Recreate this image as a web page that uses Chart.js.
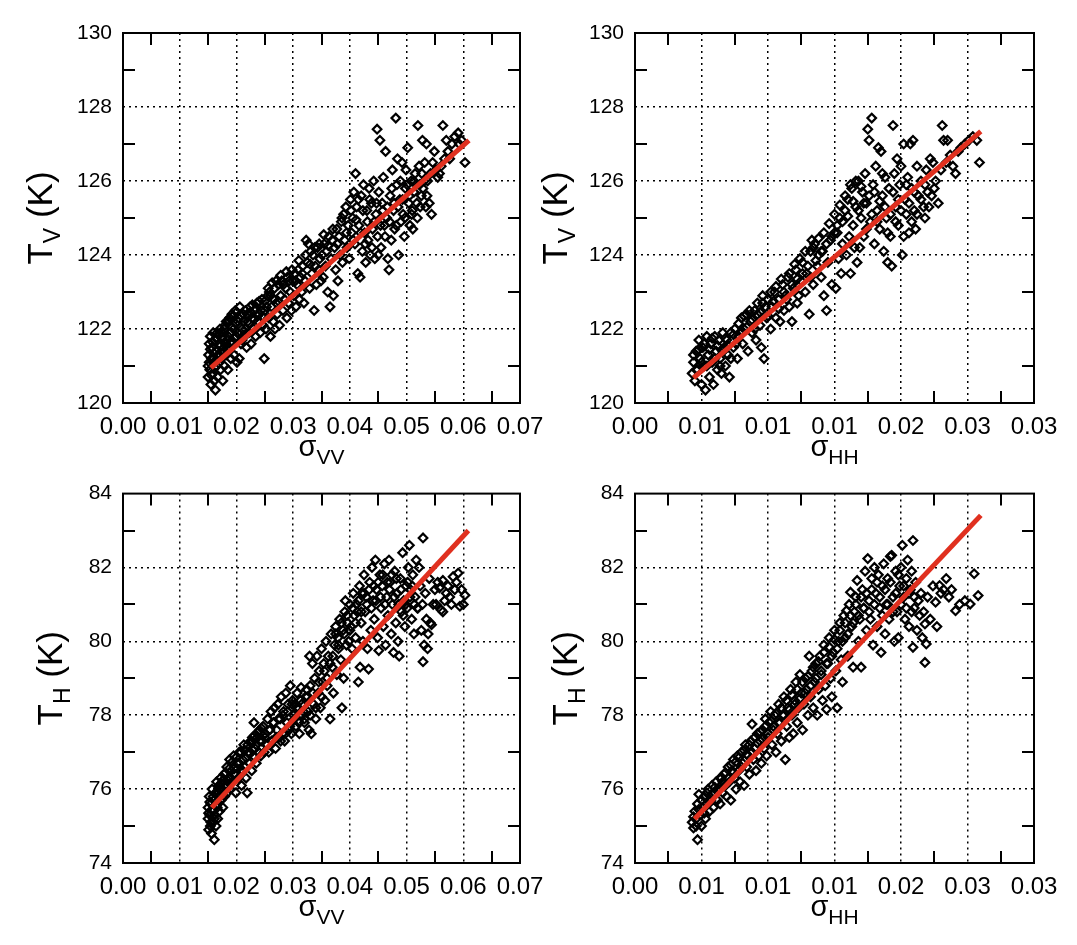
<!DOCTYPE html>
<html><head><meta charset="utf-8">
<script src="https://cdn.jsdelivr.net/npm/chart.js@4.4.1/dist/chart.umd.min.js"></script>
<style>
html,body{margin:0;padding:0;background:#fff;}
body{width:1077px;height:945px;overflow:hidden;position:relative;}
.p{position:absolute;}
canvas{display:block;}
</style></head><body>
<div class="p" style="left:0;top:0"><canvas id="c1" width="560" height="470"></canvas></div>
<div class="p" style="left:530px;top:0"><canvas id="c2" width="547" height="470"></canvas></div>
<div class="p" style="left:0;top:470px"><canvas id="c3" width="560" height="475"></canvas></div>
<div class="p" style="left:530px;top:470px"><canvas id="c4" width="547" height="475"></canvas></div>
<script>
// ---------- axes ----------
const vvTicks = [0,0.01,0.02,0.03,0.04,0.05,0.06,0.07];
const vvLabels = ['0.00','0.01','0.02','0.03','0.04','0.05','0.06','0.07'];
const vvMinor = [0.005,0.015,0.025,0.035,0.045,0.055,0.065];
const hhTicks = [0,0.005,0.01,0.015,0.02,0.025,0.03];
const hhLabels = ['0.00','0.01','0.01','0.01','0.02','0.03','0.03'];
const hhMinor = [0.0025,0.0075,0.0125,0.0175,0.0225,0.0275];
const tvTicks = [120,122,124,126,128,130];
const tvLabels = ['120','122','124','126','128','130'];
const tvMinor = [121,123,125,127,129];
const thTicks = [74,76,78,80,82,84];
const thLabels = ['74','76','78','80','82','84'];
const thMinor = [75,77,79,81,83];

// ---------- regression lines [x,y] ----------
const vvTvFit = [[0.0155,120.95],[0.0610,127.10]];
const hhTvFit = [[0.0044,120.68],[0.0260,127.34]];
const vvThFit = [[0.01565,75.50],[0.0609,83.00]];
const hhThFit = [[0.00448,75.19],[0.0260,83.41]];

// ---------- scatter points [x,y] ----------
const vvTvPts = [
[0.0150,120.7],[0.0150,121.0],[0.0151,121.3],[0.0152,121.6],[0.0153,120.9],[0.0154,121.8],[0.0155,120.5],[0.0156,121.2],[0.0157,121.5],[0.0158,120.8],[0.0159,121.9],[0.0160,121.1],[0.0161,120.6],[0.0162,121.7],[0.0163,120.35],[0.0164,121.4],[0.0165,121.0],[0.0166,121.9],[0.0167,120.7],[0.0168,121.3],[0.0170,121.6],[0.0171,122.0],[0.0172,120.9],[0.0174,121.2],[0.0175,121.8],[0.0176,120.6],[0.0178,121.5],[0.0179,121.0],[0.0180,122.1],[0.0182,121.3],[0.0183,121.7],[0.0185,120.9],[0.0186,122.2],[0.0188,121.5],[0.0189,121.9],[0.0190,121.2],[0.0192,122.4],[0.0193,121.6],[0.0195,122.0],[0.0196,121.3],[0.0198,122.5],[0.0200,121.8],[0.0201,121.1],[0.0203,122.2],[0.0205,121.2],[0.0206,122.6],[0.0208,121.6],[0.0210,122.0],[0.0212,122.4],[0.0214,121.8],[0.0216,122.5],[0.0218,121.5],[0.0220,122.2],
[0.0222,121.9],[0.0224,122.6],[0.0226,121.6],[0.0228,122.3],[0.0230,122.0],[0.0232,122.5],[0.0234,121.8],[0.0236,122.7],[0.0238,122.2],[0.0240,122.4],[0.0242,121.9],[0.0245,122.8],[0.0247,122.1],[0.0249,121.2],[0.0250,122.5],[0.0252,122.0],[0.0255,122.9],[0.0257,122.3],[0.0258,123.0],[0.0260,121.8],[0.0262,122.6],[0.0265,122.2],[0.0267,123.1],[0.0268,122.0],[0.0270,122.7],[0.0272,122.4],[0.0274,123.2],[0.0276,122.1],[0.0278,122.9],[0.0280,123.3],[0.0282,122.5],[0.0285,122.8],[0.0287,123.1],[0.0289,122.3],[0.0290,123.4],[0.0292,122.7],[0.0295,123.0],[0.0297,122.5],[0.0299,123.3],
[0.0301,122.9],[0.0303,123.5],[0.0305,122.6],[0.0307,123.2],[0.0309,123.6],[0.0311,122.8],[0.0313,123.4],[0.0315,123.0],[0.0317,123.7],[0.0319,122.7],[0.0321,123.3],[0.0323,124.4],[0.0325,123.8],[0.0327,124.3],[0.0329,123.1],[0.0331,124.1],[0.0333,123.5],[0.0335,124.0],[0.0337,122.5],[0.0339,123.7],[0.0341,123.2],[0.0343,124.2],[0.0345,123.6],[0.0347,123.9],[0.0349,123.3],
[0.0351,124.0],[0.0353,123.4],[0.0355,124.3],[0.0357,123.7],[0.0359,124.1],[0.0361,123.0],[0.0363,124.5],[0.0365,122.6],[0.0367,123.9],[0.0369,124.4],[0.0371,122.9],[0.0373,124.2],[0.0375,123.6],[0.0377,124.7],[0.0379,123.3],[0.0381,124.5],[0.0383,124.0],[0.0385,124.9],[0.0387,123.8],[0.0389,125.1],[0.0391,124.4],[0.0393,125.3],[0.0395,124.2],[0.0397,124.8],[0.0399,123.9],
[0.0401,125.5],[0.0403,124.6],[0.0405,125.0],[0.0407,125.7],[0.0409,124.3],[0.0410,126.2],[0.0412,125.3],[0.0414,123.5],[0.0416,124.8],[0.0418,123.4],[0.0420,125.6],[0.0422,124.1],[0.0424,125.9],[0.0426,124.6],[0.0428,123.8],[0.0430,125.2],[0.0432,124.4],[0.0434,125.8],[0.0436,124.0],[0.0438,125.4],[0.0440,124.7],[0.0442,126.0],[0.0444,123.9],[0.0446,125.1],[0.0448,127.4],[0.0449,124.5],[0.0451,125.7],[0.0453,127.1],[0.0455,124.2],[0.0457,125.4],[0.0459,126.1],[0.0461,124.8],[0.0463,126.8],[0.0465,125.0],[0.0467,123.9],[0.0469,123.6],[0.0471,125.6],[0.0473,124.4],[0.0475,126.3],[0.0477,125.2],[0.0479,124.7],[0.0481,127.7],[0.0483,125.9],[0.0484,126.6],[0.0486,124.0],[0.0488,125.5],[0.0490,124.9],[0.0492,126.5],[0.0494,125.1],[0.0496,124.5],[0.0498,125.8],[0.0499,126.3],
[0.0502,126.9],[0.0504,125.4],[0.0506,124.8],[0.0508,126.0],[0.0510,125.2],[0.0511,124.7],[0.0513,125.7],[0.0515,126.2],[0.0517,125.9],[0.0519,125.0],[0.0520,127.5],[0.0522,126.4],[0.0524,125.3],[0.0526,125.6],[0.0528,127.1],[0.0529,125.8],[0.0532,126.5],[0.0534,125.3],[0.0535,127.0],[0.0537,126.0],[0.0540,125.4],[0.0542,126.2],[0.0544,125.1],[0.0546,126.5],[0.0549,126.8],[0.0552,126.3],[0.0555,126.1],[0.0558,126.2],[0.0561,126.4],[0.0564,127.5],[0.0567,126.6],[0.0570,127.1],[0.0573,126.8],[0.0576,126.6],[0.0580,127.0],[0.0585,127.2],[0.0591,127.3],[0.0593,127.0],[0.0597,127.1],[0.0603,126.5],
[0.0152,121.1],[0.0154,121.45],[0.0156,120.75],[0.0158,121.65],[0.0160,121.35],[0.0162,120.95],[0.0164,121.75],[0.0166,121.15],[0.0168,121.85],[0.0170,121.3],[0.0172,121.55],[0.0174,121.9],[0.0176,121.35],[0.0178,122.0],[0.0180,121.6],[0.0182,122.2],[0.0184,121.45],[0.0186,121.8],[0.0188,122.3],[0.0190,121.65],[0.0192,122.05],[0.0194,122.35],[0.0196,121.75],[0.0198,122.15],[0.0200,122.45],[0.0202,121.9],[0.0204,122.3],[0.0206,121.85],[0.0208,122.35],[0.0210,121.7],[0.0213,122.2],[0.0216,122.0],[0.0219,122.4],[0.0222,122.15],[0.0225,122.45],[0.0228,122.65],[0.0231,122.25],[0.0234,122.55],[0.0237,122.35],[0.0240,122.75],[0.0243,122.5],[0.0246,122.35],[0.0250,122.75],[0.0253,122.6],[0.0256,123.1],[0.0260,122.9],[0.0263,123.25],[0.0266,122.8],[0.0270,123.3],[0.0274,122.75],[0.0278,123.45],[0.0283,123.2],[0.0288,123.55],[0.0293,123.3],[0.0298,123.6],[0.0304,123.3],[0.0310,123.85],[0.0316,123.5],[0.0322,124.0],[0.0330,123.75],[0.0338,124.2],[0.0346,124.3],[0.0354,124.55],[0.0362,124.25],[0.0370,124.7],[0.0378,124.3],[0.0386,125.0],[0.0394,124.6],[0.0402,125.2],[0.0406,124.4],[0.0411,124.95],[0.0415,125.5],[0.0419,124.6],[0.0423,125.2],[0.0427,124.3],[0.0431,124.9],[0.0435,125.5],[0.0439,124.2],[0.0443,124.9],[0.0447,125.4],[0.0450,124.0],[0.0454,124.8],[0.0458,125.2],[0.0462,124.5],[0.0466,125.3],[0.0470,124.9],[0.0474,125.8],[0.0478,125.4],[0.0482,124.8],[0.0485,125.3],[0.0489,126.0],[0.0493,125.5],[0.0497,125.0],[0.0501,125.9],[0.0505,125.6],[0.0509,125.1],[0.0513,126.0],[0.0518,125.4],[0.0523,125.9],[0.0527,126.2],[0.0531,126.0],[0.0536,125.6]
];
const hhTvPts = [
[0.0043,120.8],[0.0044,121.1],[0.0045,120.6],[0.0046,121.4],[0.0047,120.9],[0.0048,121.7],[0.0049,121.2],[0.0050,120.5],[0.0051,121.5],[0.0052,121.0],[0.0053,120.35],[0.0054,121.8],[0.0055,121.3],[0.0056,120.7],[0.0057,121.6],[0.0058,121.1],[0.0059,120.5],[0.0060,121.8],[0.0061,121.4],[0.0062,120.9],[0.0063,121.7],[0.0064,121.2],[0.0065,120.8],[0.0066,121.9],[0.0067,121.5],[0.0068,121.0],[0.0069,121.7],[0.0070,121.3],[0.0071,120.7],[0.0072,121.9],
[0.0074,121.5],[0.0075,122.0],[0.0077,121.2],[0.0078,121.8],[0.0080,122.3],[0.0081,121.6],[0.0082,122.0],[0.0084,122.4],[0.0085,121.4],[0.0087,122.2],[0.0088,121.9],[0.0090,122.5],[0.0091,121.7],[0.0092,122.4],[0.0094,122.1],[0.0095,121.5],[0.0096,122.7],[0.0097,121.2],[0.0099,122.3],[0.0100,122.8],[0.0102,122.0],[0.0103,122.6],[0.0105,123.0],[0.0106,122.3],[0.0108,122.8],[0.0109,122.2],[0.0111,123.2],[0.0112,122.5],[0.0113,122.9],[0.0115,123.4],[0.0116,122.6],[0.0118,122.2],[0.0119,123.1],
[0.0121,123.6],[0.0122,122.7],[0.0123,122.9],[0.0125,123.3],[0.0126,123.8],[0.0128,123.0],[0.0129,123.5],[0.0131,122.4],[0.0132,124.1],[0.0133,124.4],[0.0134,123.2],[0.0135,124.3],[0.0137,123.7],[0.0138,124.0],[0.0140,123.4],[0.0141,124.1],[0.0142,122.9],[0.0144,122.5],[0.0145,123.8],[0.0147,124.4],[0.0148,123.2],[0.0150,124.6],[0.0151,123.1],[0.0152,124.8],[0.0153,123.9],[0.0154,125.0],[0.0155,123.5],[0.0156,124.3],[0.0158,125.2],[0.0159,124.0],
[0.0160,125.5],[0.0161,124.5],[0.0162,123.5],[0.0163,125.8],[0.0164,124.8],[0.0165,124.2],[0.0166,125.3],[0.0167,123.8],[0.0168,126.0],[0.0169,124.2],[0.0170,125.0],[0.0171,125.7],[0.0172,124.5],[0.0173,126.2],[0.0174,125.4],[0.0175,127.4],[0.0176,127.1],[0.0177,124.9],[0.0178,127.7],[0.0179,125.9],[0.0180,124.3],[0.0181,126.4],[0.0182,125.2],[0.0183,126.9],[0.0184,124.7],[0.0185,126.8],[0.0186,125.6],[0.0187,124.1],[0.0188,126.1],[0.0189,125.0],[0.0190,123.8],[0.0191,125.8],[0.0192,124.5],[0.0193,123.7],[0.0194,127.5],[0.0195,126.2],[0.0196,125.3],[0.0197,126.6],[0.0198,124.8],[0.0199,125.9],
[0.0200,126.4],[0.0201,124.0],[0.0202,127.0],[0.0203,125.5],[0.0204,125.1],[0.0205,126.1],[0.0206,124.6],[0.0207,127.0],[0.0208,125.8],[0.0209,127.1],[0.0210,125.2],[0.0211,124.7],[0.0212,126.4],[0.0213,125.6],[0.0215,126.0],[0.0217,125.3],[0.0218,125.0],[0.0219,126.3],[0.0220,125.7],[0.0222,126.6],[0.0223,125.6],[0.0224,126.5],[0.0226,126.0],[0.0228,125.4],[0.0230,126.3],[0.0231,127.5],[0.0232,127.1],[0.0234,126.5],[0.0235,127.1],[0.0237,126.7],[0.0239,126.4],[0.0241,126.2],[0.0243,126.8],[0.0245,126.9],[0.0248,127.0],[0.0251,127.1],[0.0254,127.2],[0.0257,127.1],[0.0259,126.5],
[0.0044,121.3],[0.0046,120.9],[0.0048,121.45],[0.0050,121.1],[0.0052,121.6],[0.0054,121.0],[0.0056,121.45],[0.0058,121.75],[0.0060,121.2],[0.0062,121.55],[0.0064,121.0],[0.0066,121.4],[0.0068,121.75],[0.0070,121.55],[0.0072,121.2],[0.0074,121.85],[0.0076,121.6],[0.0078,122.15],[0.0080,121.9],[0.0082,122.35],[0.0084,122.05],[0.0086,122.5],[0.0088,122.25],[0.0090,122.0],[0.0092,122.7],[0.0094,122.45],[0.0096,122.9],[0.0098,122.6],[0.0100,122.35],[0.0102,123.0],[0.0104,122.75],[0.0106,123.15],[0.0108,122.55],[0.0110,123.35],[0.0112,123.0],[0.0114,122.8],[0.0116,123.5],[0.0118,123.2],[0.0120,123.75],[0.0122,123.35],[0.0124,123.9],[0.0126,123.5],[0.0128,124.1],[0.0130,123.7],[0.0132,123.4],[0.0134,124.2],[0.0136,123.85],[0.0138,124.45],[0.0140,124.1],[0.0142,124.6],[0.0144,124.3],[0.0146,124.85],[0.0148,124.5],[0.0150,125.1],[0.0152,124.6],[0.0154,125.35],[0.0156,124.9],[0.0158,125.6],[0.0160,125.05],[0.0162,125.9],[0.0164,125.45],[0.0166,126.0],[0.0168,125.2],[0.0170,125.85],[0.0172,125.4],[0.0174,124.7],[0.0176,125.6],[0.0178,125.1],[0.0180,125.7],[0.0182,124.9],[0.0184,125.45],[0.0186,126.2],[0.0188,125.3],[0.0190,124.6],[0.0192,125.1],[0.0194,125.7],[0.0196,124.9],[0.0198,125.5],[0.0200,125.2],[0.0202,124.5],[0.0204,125.9],[0.0206,125.4],[0.0208,124.9],[0.0210,125.7],[0.0212,125.1],[0.0215,125.5],[0.0218,125.9],[0.0221,125.3],[0.0225,125.8]
];
const vvThPts = [
[0.0150,75.2],[0.0150,75.5],[0.0151,74.9],[0.0152,75.8],[0.0153,75.3],[0.0154,75.0],[0.0155,75.6],[0.0156,74.8],[0.0157,76.0],[0.0158,75.4],[0.0159,75.1],[0.0160,75.7],[0.0161,74.63],[0.0162,75.3],[0.0163,75.9],[0.0164,75.0],[0.0165,76.2],[0.0166,75.5],[0.0167,75.2],[0.0168,75.8],[0.0169,76.1],[0.0170,75.4],[0.0172,76.3],[0.0173,75.7],[0.0175,76.0],[0.0176,75.5],[0.0178,76.4],[0.0179,75.8],
[0.0181,76.1],[0.0183,76.6],[0.0184,75.9],[0.0186,76.3],[0.0188,76.8],[0.0189,76.0],[0.0191,76.5],[0.0193,76.2],[0.0195,76.9],[0.0197,76.4],[0.0199,75.9],[0.0201,76.7],[0.0203,76.3],[0.0205,77.0],[0.0207,76.5],[0.0209,76.1],[0.0211,76.8],[0.0213,77.2],[0.0215,76.6],[0.0217,76.3],[0.0219,75.9],[0.0221,77.0],[0.0223,76.7],[0.0225,77.3],[0.0227,76.5],[0.0228,77.4],[0.0230,76.9],[0.0231,77.8],[0.0233,77.1],[0.0235,76.7],[0.0237,77.4],[0.0239,77.0],[0.0241,77.6],[0.0243,76.9],[0.0245,77.3],[0.0247,77.7],[0.0249,77.0],
[0.0251,77.5],[0.0253,77.2],[0.0255,77.9],[0.0257,77.0],[0.0259,77.6],[0.0261,78.1],[0.0263,77.3],[0.0265,77.8],[0.0267,78.2],[0.0269,77.1],[0.0271,77.6],[0.0273,78.3],[0.0275,77.4],[0.0277,77.9],[0.0279,78.5],[0.0281,77.5],[0.0283,78.1],[0.0285,77.3],[0.0287,78.6],[0.0289,77.8],[0.0291,78.3],[0.0293,77.6],[0.0295,78.8],[0.0297,77.5],[0.0299,78.4],[0.0301,78.0],[0.0303,78.3],[0.0305,77.7],[0.0307,78.6],[0.0309,78.2],[0.0311,77.5],[0.0313,78.4],[0.0314,78.75],[0.0316,78.0],[0.0318,78.1],[0.0320,77.8],[0.0322,78.5],[0.0324,78.7],[0.0326,78.1],[0.0328,77.6],[0.0329,79.6],[0.0330,78.8],
[0.0332,77.5],[0.0334,79.4],[0.0336,78.3],[0.0338,79.0],[0.0340,77.9],[0.0342,79.6],[0.0344,78.6],[0.0346,79.2],[0.0348,78.2],[0.0350,79.8],[0.0352,78.9],[0.0354,79.4],[0.0356,78.4],[0.0358,80.0],[0.0360,79.0],[0.0362,79.6],[0.0365,77.9],[0.0367,80.2],[0.0369,79.3],[0.0371,78.6],[0.0373,79.9],[0.0375,80.4],[0.0377,79.1],[0.0379,80.1],[0.0380,79.8],[0.0382,80.6],[0.0384,79.5],[0.0386,78.2],[0.0388,80.3],[0.0389,79.0],[0.0391,80.8],[0.0392,81.1],[0.0394,79.9],[0.0396,80.5],[0.0398,80.0],
[0.0400,81.0],[0.0402,80.4],[0.0404,79.8],[0.0406,81.3],[0.0408,80.7],[0.0410,80.1],[0.0412,81.0],[0.0413,80.8],[0.0415,78.9],[0.0417,81.5],[0.0418,79.3],[0.0420,80.5],[0.0421,81.3],[0.0423,80.0],[0.0425,81.8],[0.0427,80.8],[0.0429,81.2],[0.0431,79.8],[0.0433,79.25],[0.0435,81.6],[0.0437,80.3],[0.0439,82.0],[0.0441,81.1],[0.0443,80.6],[0.0445,82.2],[0.0447,81.4],[0.0449,80.1],[0.0451,79.75],[0.0453,81.8],[0.0455,80.9],[0.0457,81.5],[0.0459,80.4],[0.0461,82.1],[0.0463,79.9],[0.0465,81.2],[0.0467,80.7],[0.0469,82.2],[0.0471,81.6],[0.0473,80.2],[0.0475,81.0],[0.0477,79.7],[0.0479,81.9],[0.0481,80.5],[0.0483,81.3],[0.0485,80.0],[0.0487,79.6],[0.0489,81.7],[0.0491,80.8],[0.0493,82.4],[0.0495,81.1],[0.0497,80.4],[0.0499,81.5],
[0.0501,80.9],[0.0503,82.0],[0.0505,82.6],[0.0507,81.4],[0.0509,80.6],[0.0511,81.8],[0.0513,80.2],[0.0515,81.2],[0.0517,82.2],[0.0519,80.9],[0.0520,80.9],[0.0522,82.0],[0.0524,81.5],[0.0526,80.3],[0.0528,81.0],[0.0529,82.8],[0.0529,79.45],[0.0531,79.9],[0.0533,81.3],[0.0535,80.6],[0.0537,79.8],[0.0538,80.2],[0.0540,81.7],[0.0542,80.5],[0.0544,80.45],[0.0547,81.0],[0.0550,81.4],[0.0552,81.0],[0.0555,81.6],[0.0558,81.45],[0.0561,80.85],[0.0564,81.65],[0.0564,80.8],[0.0567,81.1],[0.0570,81.3],[0.0573,81.5],[0.0576,81.2],[0.0579,81.0],[0.0582,81.75],[0.0585,81.4],[0.0588,81.6],[0.0591,81.85],[0.0594,80.95],[0.0597,81.4],[0.0600,81.0],[0.0603,81.25],
[0.0151,75.35],[0.0153,75.65],[0.0155,75.1],[0.0157,75.45],[0.0159,75.8],[0.0161,75.2],[0.0163,75.55],[0.0165,75.85],[0.0167,75.6],[0.0169,75.9],[0.0171,76.0],[0.0173,76.15],[0.0175,75.75],[0.0177,76.25],[0.0179,76.05],[0.0181,76.45],[0.0184,76.25],[0.0187,76.55],[0.0190,76.3],[0.0193,76.75],[0.0196,76.55],[0.0199,76.85],[0.0202,76.55],[0.0205,76.7],[0.0208,77.0],[0.0211,76.5],[0.0214,77.05],[0.0217,76.85],[0.0220,77.2],[0.0223,76.95],[0.0226,77.25],[0.0229,77.05],[0.0232,77.45],[0.0235,77.2],[0.0238,77.55],[0.0241,77.3],[0.0244,77.65],[0.0247,77.45],[0.0250,77.4],[0.0254,77.2],[0.0258,77.6],[0.0262,77.3],[0.0266,77.8],[0.0270,77.4],[0.0274,77.9],[0.0278,77.3],[0.0282,78.0],[0.0286,77.5],[0.0290,78.1],[0.0294,77.7],[0.0298,78.3],[0.0302,77.9],[0.0306,78.2],[0.0310,77.8],[0.0315,78.3],[0.0320,77.9],[0.0325,78.5],[0.0330,78.0],[0.0335,78.6],[0.0340,78.2],[0.0345,78.9],[0.0350,78.5],[0.0355,79.2],[0.0360,78.8],[0.0365,79.4],[0.0370,79.6],[0.0375,80.2],[0.0380,79.9],[0.0385,80.5],[0.0390,80.2],[0.0395,80.7],[0.0400,80.3],[0.0405,80.9],[0.0410,80.5],[0.0415,81.1],[0.0420,80.8],[0.0425,81.3],[0.0430,81.0],[0.0434,81.4],[0.0438,80.9],[0.0442,81.5],[0.0446,81.1],[0.0450,81.6],[0.0454,81.2],[0.0458,81.8],[0.0462,81.0],[0.0466,81.6],[0.0470,81.4],[0.0474,81.8],[0.0478,81.2],[0.0482,81.7],[0.0486,81.0],[0.0490,81.4],[0.0494,80.7],[0.0498,81.0],[0.0502,81.6],[0.0506,81.2],[0.0510,81.5],[0.0514,81.0]
];
const hhThPts = [
[0.0043,75.1],[0.0044,74.95],[0.0045,75.4],[0.0046,75.2],[0.0047,74.63],[0.0047,75.6],[0.0048,75.86],[0.0049,75.3],[0.0050,75.0],[0.0051,75.5],[0.0052,75.8],[0.0053,75.2],[0.0054,75.6],[0.0055,76.0],[0.0056,75.4],[0.0057,75.7],[0.0058,76.1],[0.0059,75.5],[0.0060,75.9],[0.0061,76.2],[0.0062,75.7],[0.0063,76.0],[0.0064,75.6],[0.0065,76.3],
[0.0066,75.9],[0.0067,76.4],[0.0068,76.1],[0.0069,75.8],[0.0070,76.6],[0.0071,76.2],[0.0072,75.7],[0.0073,76.5],[0.0074,76.8],[0.0075,76.3],[0.0076,76.0],[0.0077,76.9],[0.0078,76.5],[0.0079,76.2],[0.0080,77.0],[0.0081,76.7],[0.0082,76.1],[0.0083,77.2],[0.0084,76.6],[0.0085,76.9],[0.0086,76.4],[0.0087,77.3],[0.0088,77.76],[0.0089,76.8],[0.0090,77.1],[0.0091,76.5],[0.0092,77.5],[0.0093,76.9],[0.0094,77.3],[0.0095,76.7],[0.0096,77.6],[0.0097,77.1],[0.0098,77.9],[0.0099,76.9],
[0.0100,77.4],[0.0101,77.8],[0.0102,78.1],[0.0103,77.2],[0.0104,77.6],[0.0105,78.0],[0.0106,77.0],[0.0107,77.5],[0.0108,78.3],[0.0109,77.8],[0.0110,77.3],[0.0111,78.0],[0.0112,78.5],[0.0113,76.8],[0.0114,77.7],[0.0115,78.2],[0.0116,77.4],[0.0117,78.7],[0.0118,78.0],[0.0119,77.5],[0.0120,78.4],[0.0121,78.9],[0.0122,77.8],[0.0123,78.2],[0.0124,79.1],[0.0125,78.6],[0.0126,77.6],[0.0127,78.3],[0.0128,79.0],[0.0129,78.7],[0.0130,78.0],[0.0131,79.6],[0.0132,78.5],[0.0133,79.2],[0.0134,78.2],[0.0135,78.9],[0.0136,79.4],[0.0137,78.0],[0.0138,78.7],[0.0139,79.6],[0.0140,79.1],[0.0141,78.4],[0.0142,79.9],[0.0143,78.8],[0.0144,78.16],[0.0145,79.4],[0.0146,80.1],[0.0147,79.0],[0.0148,78.5],[0.0149,79.7],
[0.0150,80.3],[0.0151,79.2],[0.0152,78.2],[0.0153,80.0],[0.0154,80.5],[0.0155,79.5],[0.0156,78.9],[0.0157,80.7],[0.0158,80.1],[0.0159,80.83],[0.0160,79.6],[0.0161,81.0],[0.0162,81.33],[0.0163,80.4],[0.0164,79.3],[0.0165,80.8],[0.0166,81.2],[0.0167,81.65],[0.0168,80.0],[0.0169,80.6],[0.0170,79.3],[0.0171,81.4],[0.0172,80.9],[0.0173,81.9],[0.0174,80.3],[0.0175,82.24],[0.0176,81.1],[0.0177,80.6],[0.0178,81.7],[0.0179,79.9],[0.0180,82.0],[0.0181,81.3],[0.0182,80.4],[0.0183,81.8],[0.0184,80.9],[0.0185,79.7],[0.0186,81.5],[0.0187,82.1],[0.0188,80.2],[0.0189,81.0],[0.0190,81.7],[0.0191,80.6],[0.0192,82.3],[0.0193,82.33],[0.0194,81.2],[0.0195,80.0],[0.0196,81.9],[0.0197,80.8],[0.0198,80.1],[0.0199,81.5],
[0.0200,82.0],[0.0201,82.6],[0.0202,81.2],[0.0203,80.6],[0.0204,81.7],[0.0205,82.2],[0.0206,80.4],[0.0207,81.4],[0.0208,81.9],[0.0209,82.73],[0.0209,79.84],[0.0210,80.9],[0.0211,81.6],[0.0212,80.3],[0.0213,81.1],[0.0214,80.7],[0.0215,81.3],[0.0216,80.1],[0.0217,80.8],[0.0218,79.43],[0.0218,80.47],[0.0219,79.93],[0.0220,81.2],[0.0222,80.6],[0.0224,81.5],[0.0226,81.06],[0.0227,80.4],[0.0229,81.51],[0.0230,81.3],[0.0232,81.4],[0.0234,81.7],[0.0236,81.2],[0.0238,81.4],[0.0241,80.83],[0.0244,81.0],[0.0248,81.1],[0.0252,81.01],[0.0255,81.83],[0.0258,81.24],
[0.0044,75.25],[0.0046,75.0],[0.0048,75.45],[0.0050,75.7],[0.0052,75.35],[0.0054,75.9],[0.0056,75.65],[0.0058,75.85],[0.0060,76.05],[0.0062,75.95],[0.0064,76.3],[0.0066,76.2],[0.0068,76.45],[0.0070,76.3],[0.0072,76.65],[0.0074,76.45],[0.0076,76.75],[0.0078,76.85],[0.0080,76.6],[0.0082,77.05],[0.0084,76.95],[0.0086,77.2],[0.0088,77.0],[0.0090,77.4],[0.0092,77.25],[0.0094,77.55],[0.0096,77.35],[0.0098,77.7],[0.0100,77.5],[0.0102,77.85],[0.0104,77.7],[0.0106,78.05],[0.0108,77.8],[0.0110,78.2],[0.0112,78.0],[0.0114,78.4],[0.0116,78.15],[0.0118,78.55],[0.0120,78.3],[0.0122,78.7],[0.0124,78.45],[0.0126,78.9],[0.0128,78.6],[0.0130,79.05],[0.0132,78.8],[0.0134,79.3],[0.0136,79.0],[0.0138,79.45],[0.0140,79.2],[0.0142,79.7],[0.0144,79.4],[0.0146,79.85],[0.0148,79.6],[0.0150,80.05],[0.0152,79.8],[0.0154,80.3],[0.0156,80.0],[0.0158,80.5],[0.0160,80.2],[0.0162,80.7],[0.0164,80.5],[0.0166,81.0],[0.0168,80.7],[0.0170,81.2],[0.0172,80.9],[0.0174,81.3],[0.0176,80.8],[0.0178,81.4],[0.0180,81.0],[0.0182,81.6],[0.0184,81.2],[0.0186,80.7],[0.0188,81.4],[0.0190,81.0],[0.0192,81.6],[0.0194,80.8],[0.0196,81.3],[0.0198,81.8],[0.0200,81.0],[0.0202,81.5],[0.0204,80.9],[0.0206,81.3],[0.0208,80.8],[0.0210,81.2]
];

// ---------- drawing ----------
const FONT = '"Liberation Sans", Arial, Helvetica, sans-serif';
Chart.defaults.font.family = FONT;
Chart.defaults.color = '#000';

function drawRich(ctx, parts, cx, baseline){
  let w = 0;
  parts.forEach(p => { ctx.font = p.size + 'px ' + FONT; p.w = ctx.measureText(p.t).width; w += p.w; });
  let x = cx - w / 2;
  parts.forEach(p => { ctx.font = p.size + 'px ' + FONT; ctx.fillText(p.t, x, baseline + (p.dy || 0)); x += p.w; });
}

function framePlugin(cfg){
  return {
    id: 'frame',
    afterDraw(chart){
      const ctx = chart.ctx, a = chart.chartArea, xs = chart.scales.x, ys = chart.scales.y;
      ctx.save();
      ctx.strokeStyle = '#000'; ctx.lineWidth = 2; ctx.setLineDash([]);
      ctx.beginPath();
      cfg.xMinor.forEach(v => { const px = Math.round(xs.getPixelForValue(v));
        ctx.moveTo(px, a.bottom); ctx.lineTo(px, a.bottom - 12);
        ctx.moveTo(px, a.top); ctx.lineTo(px, a.top + 12); });
      cfg.yMinor.forEach(v => { const py = Math.round(ys.getPixelForValue(v));
        ctx.moveTo(a.left, py); ctx.lineTo(a.left + 12, py);
        ctx.moveTo(a.right, py); ctx.lineTo(a.right - 12, py); });
      ctx.stroke();
      ctx.strokeRect(a.left, a.top, a.right - a.left, a.bottom - a.top);
      ctx.fillStyle = '#000'; ctx.textAlign = 'left'; ctx.textBaseline = 'alphabetic';
      drawRich(ctx, cfg.xTitle, (a.left + a.right) / 2, a.bottom + cfg.xTitleOff);
      ctx.save();
      ctx.translate(a.left - cfg.yTitleOff, (a.top + a.bottom) / 2);
      ctx.rotate(-Math.PI / 2);
      drawRich(ctx, cfg.yTitle, 0, 13);
      ctx.restore();
      ctx.restore();
    }
  };
}

function makePanel(cfg){
  const gridColor = (ticks) => (c) => (c.index === 0 || c.index === ticks.length - 1) ? 'rgba(0,0,0,0)' : '#000';
  new Chart(document.getElementById(cfg.id), {
    type: 'scatter',
    data: { datasets: [
      { type: 'line', data: cfg.fit.map(p => ({x: p[0], y: p[1]})), borderColor: '#e0301f', borderWidth: 5,
        pointRadius: 0, showLine: true, order: 0, borderCapStyle: 'butt' },
      { data: cfg.pts.map(p => ({x: p[0], y: p[1]})), pointStyle: 'rectRot', pointRadius: 4.3, borderWidth: 2.2,
        borderColor: '#000', backgroundColor: 'rgba(0,0,0,0)', order: 1 }
    ]},
    options: {
      responsive: false, animation: false, events: [],
      layout: { padding: { top: cfg.padTop, right: cfg.padRight, left: 0, bottom: 0 } },
      plugins: { legend: { display: false }, tooltip: { enabled: false } },
      scales: {
        x: { type: 'linear', min: cfg.xTicks[0], max: cfg.xTicks[cfg.xTicks.length - 1],
          afterBuildTicks: s => { s.ticks = cfg.xTicks.map(v => ({value: v})); },
          afterFit: s => { s.height = cfg.xAxisH; },
          ticks: { callback: (v, i) => cfg.xLabels[i], font: { size: 24 }, color: '#000', padding: 10,
            maxRotation: 0, autoSkip: false },
          grid: { drawTicks: false, color: gridColor(cfg.xTicks), lineWidth: 1.5 },
          border: { display: false, dash: [2, 4] } },
        y: { type: 'linear', min: cfg.yTicks[0], max: cfg.yTicks[cfg.yTicks.length - 1],
          afterBuildTicks: s => { s.ticks = cfg.yTicks.map(v => ({value: v})); },
          afterFit: s => { s.width = cfg.yAxisW; },
          ticks: { callback: (v, i) => cfg.yLabels[i], font: { size: 21 }, color: '#000', padding: 11, autoSkip: false },
          grid: { drawTicks: false, color: gridColor(cfg.yTicks), lineWidth: 1.5 },
          border: { display: false, dash: [2, 4] } }
      }
    },
    plugins: [framePlugin(cfg)]
  });
}

const tvTitle = [{t:'T', size:35}, {t:'V', size:23, dy:8}, {t:' (K)', size:35}];
const thTitle = [{t:'T', size:35}, {t:'H', size:23, dy:8}, {t:' (K)', size:35}];
const vvTitle = [{t:'σ', size:29}, {t:'VV', size:21, dy:8}];
const hhTitle = [{t:'σ', size:29}, {t:'HH', size:21, dy:8}];

makePanel({id:'c1', pts:vvTvPts, fit:vvTvFit, xTicks:vvTicks, xLabels:vvLabels, xMinor:vvMinor,
  yTicks:tvTicks, yLabels:tvLabels, yMinor:tvMinor, padTop:33, padRight:40, yAxisW:123, xAxisH:67,
  xTitle:vvTitle, yTitle:tvTitle, xTitleOff:53, yTitleOff:84});
makePanel({id:'c2', pts:hhTvPts, fit:hhTvFit, xTicks:hhTicks, xLabels:hhLabels, xMinor:hhMinor,
  yTicks:tvTicks, yLabels:tvLabels, yMinor:tvMinor, padTop:33, padRight:43, yAxisW:105, xAxisH:67,
  xTitle:hhTitle, yTitle:tvTitle, xTitleOff:53, yTitleOff:81});
makePanel({id:'c3', pts:vvThPts, fit:vvThFit, xTicks:vvTicks, xLabels:vvLabels, xMinor:vvMinor,
  yTicks:thTicks, yLabels:thLabels, yMinor:thMinor, padTop:23, padRight:40, yAxisW:123, xAxisH:82,
  xTitle:vvTitle, yTitle:thTitle, xTitleOff:53, yTitleOff:74});
makePanel({id:'c4', pts:hhThPts, fit:hhThFit, xTicks:hhTicks, xLabels:hhLabels, xMinor:hhMinor,
  yTicks:thTicks, yLabels:thLabels, yMinor:thMinor, padTop:23, padRight:43, yAxisW:105, xAxisH:82,
  xTitle:hhTitle, yTitle:thTitle, xTitleOff:53, yTitleOff:71});
</script>
</body></html>
